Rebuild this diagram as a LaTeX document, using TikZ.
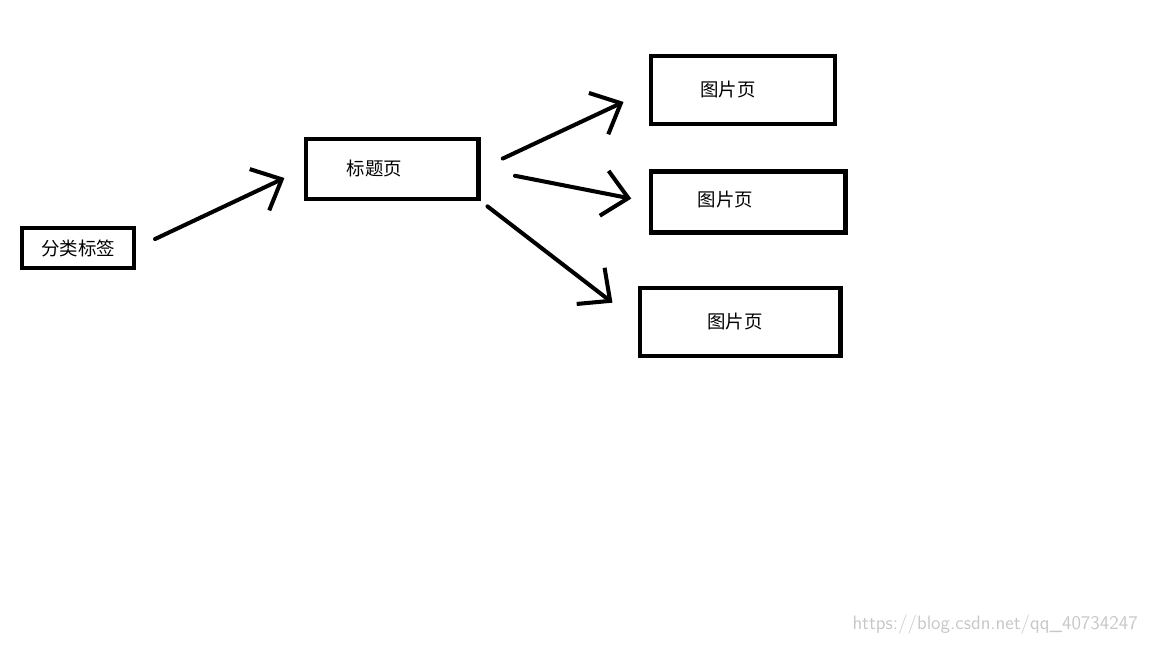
\documentclass[tikz,border=0pt]{standalone}
\usepackage{fontspec}
\newfontfamily\cjk{Noto Sans CJK SC}
\usetikzlibrary{arrows.meta}
\tikzset{
  box/.style={draw,line width=2.3pt,inner sep=0pt,font=\cjk\fontsize{10.5}{12}\selectfont},
  hand/.style={line width=2.3pt,line cap=round,-{Straight Barb[length=14pt,width=26pt,line width=2.3pt]}}
}
\begin{document}
\begin{tikzpicture}[x=0.02cm,y=-0.02cm]
\useasboundingbox (0,0) rectangle (1152,648);
\node [box,minimum width=112\pgflinewidth/\pgflinewidth*0.02cm,minimum height=0.8cm] (cat) at (78,248) {分类标签};
\node [box,minimum width=3.46cm,minimum height=1.2cm] (title) at (392,169) {\hspace*{-0.7cm}标题页};
\node [box,minimum width=3.68cm,minimum height=1.36cm] (pa) at (743,90) {\raisebox{-6pt}{\hspace*{-0.6cm}图片页}};
\node [box,minimum width=3.9cm,minimum height=1.22cm] (pb) at (748,202) {\raisebox{4pt}{\hspace*{-0.9cm}图片页}};
\node [box,minimum width=4.02cm,minimum height=1.36cm] (pc) at (740,322) {\hspace*{-0.2cm}图片页};
\draw [hand,shorten <=12pt,shorten >=12pt] (cat.east) -- (title.west);
\draw [hand,shorten <=14pt,shorten >=16pt] (title.east) -- (pa.west);
\draw [hand,shorten <=20pt,shorten >=10pt] (title.east) -- (pb.west);
\draw [hand,shorten <=5pt,shorten >=18pt] (title.south east) -- (pc.west);
\node [anchor=south east,text=black!22,font=\sffamily\fontsize{11}{13}\selectfont] (mark) at (1144,641) {https://blog.csdn.net/qq\_40734247};
\end{tikzpicture}
\end{document}
